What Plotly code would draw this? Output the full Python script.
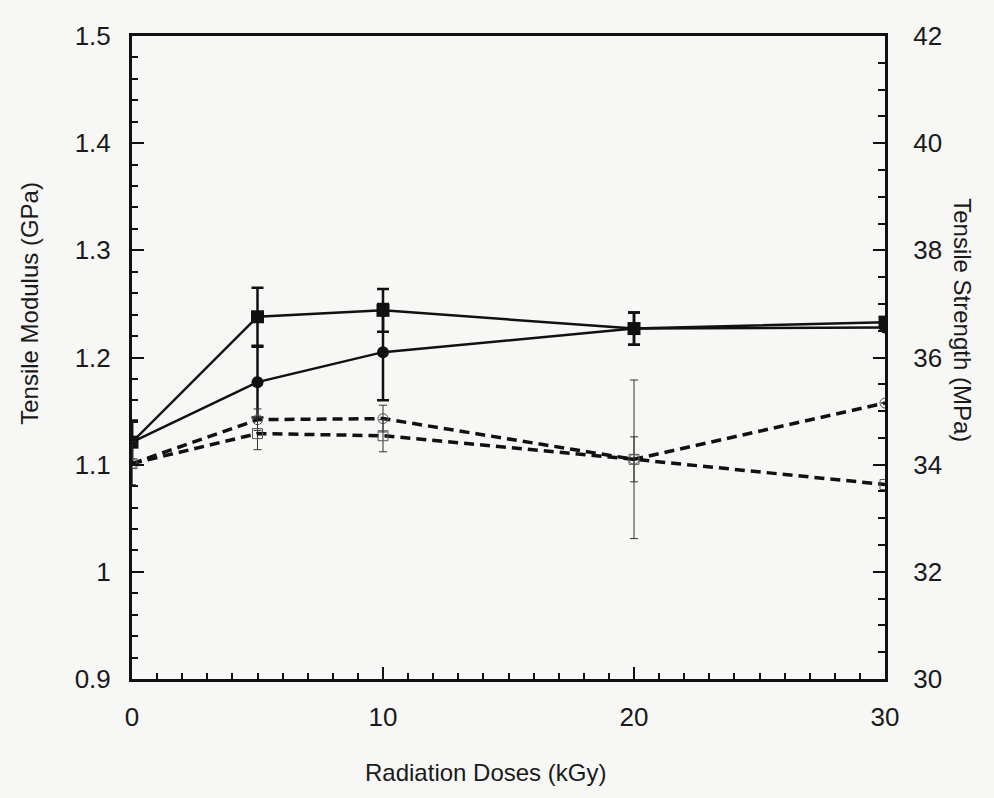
import plotly.graph_objects as go

dose = [0, 5, 10, 20, 30]

# Tensile modulus (GPa), left axis - solid lines
mod_sq = [1.121, 1.238, 1.244, 1.227, 1.233]
mod_sq_err = [0.02, 0.027, 0.02, 0.015, 0.0]
mod_ci = [1.121, 1.177, 1.205, 1.227, 1.228]
mod_ci_err = [0.02, 0.033, 0.045, 0.015, 0.0]

# Tensile strength (MPa), right axis - dashed lines
str_ci = [34.02, 34.84, 34.86, 34.1, 35.15]
str_ci_err = [0.4, 0.2, 0.25, 1.48, 0.0]
str_sq = [34.02, 34.58, 34.54, 34.1, 33.63]
str_sq_err = [0.4, 0.3, 0.3, 0.42, 0.0]

x_ticks = [0, 10, 20, 30]
left_ticks = [0.9, 1.0, 1.1, 1.2, 1.3, 1.4, 1.5]
left_labels = ["0.9", "1", "1.1", "1.2", "1.3", "1.4", "1.5"]
right_ticks = [30, 32, 34, 36, 38, 40, 42]

x_title = "Radiation Doses (kGy)"
left_title = "Tensile Modulus (GPa)"
right_title = "Tensile Strength (MPa)"

font_fam = "Liberation Sans, Arial, sans-serif"
ink = "#111111"

fig = go.Figure()

fig.add_trace(go.Scatter(
    x=dose, y=str_ci, yaxis="y2", mode="lines+markers",
    line=dict(color=ink, width=3.5, dash="10px,6px"),
    marker=dict(symbol="circle-open", size=10, color="#555", line=dict(width=1)),
    error_y=dict(type="data", array=str_ci_err, color="#333", thickness=1, width=4),
    showlegend=False))
fig.add_trace(go.Scatter(
    x=dose, y=str_sq, yaxis="y2", mode="lines+markers",
    line=dict(color=ink, width=3.5, dash="10px,6px"),
    marker=dict(symbol="square-open", size=10, color="#555", line=dict(width=1)),
    error_y=dict(type="data", array=str_sq_err, color="#333", thickness=1, width=4),
    showlegend=False))
fig.add_trace(go.Scatter(
    x=dose, y=mod_ci, mode="lines+markers",
    line=dict(color=ink, width=2.5),
    marker=dict(symbol="circle", size=12, color=ink),
    error_y=dict(type="data", array=mod_ci_err, color=ink, thickness=2.5, width=6),
    showlegend=False))
fig.add_trace(go.Scatter(
    x=dose, y=mod_sq, mode="lines+markers",
    line=dict(color=ink, width=2.5),
    marker=dict(symbol="square", size=13, color=ink),
    error_y=dict(type="data", array=mod_sq_err, color=ink, thickness=2.5, width=6),
    showlegend=False))

tick_font = dict(family=font_fam, size=26, color="#1a1a1a")
title_font = dict(family=font_fam, size=24, color="#1a1a1a")

fig.update_layout(
    width=994, height=798,
    margin=dict(l=132, r=109, t=36, b=119),
    paper_bgcolor="#f7f7f5", plot_bgcolor="#f7f7f5",
    xaxis=dict(
        range=[0, 30], tickvals=x_ticks, ticktext=[str(v) for v in x_ticks],
        ticks="inside", ticklen=12, tickwidth=2, tickcolor=ink,
        minor=dict(dtick=1, ticks="inside", ticklen=6, tickwidth=2, tickcolor=ink),
        showline=True, linewidth=3, linecolor=ink, mirror=True,
        showgrid=False, zeroline=False, tickfont=tick_font, ticklabelstandoff=13,
    ),
    yaxis=dict(
        range=[0.9, 1.5], tickvals=left_ticks, ticktext=left_labels,
        ticks="inside", ticklen=12, tickwidth=2, tickcolor=ink,
        minor=dict(dtick=0.02, ticks="inside", ticklen=6, tickwidth=2, tickcolor=ink),
        showline=True, linewidth=3, linecolor=ink, mirror=False,
        showgrid=False, zeroline=False, tickfont=tick_font, ticklabelstandoff=13,
    ),
    yaxis2=dict(
        range=[30, 42], tickvals=right_ticks, overlaying="y", side="right",
        ticks="inside", ticklen=12, tickwidth=2, tickcolor=ink,
        minor=dict(dtick=0.5, ticks="inside", ticklen=7, tickwidth=2, tickcolor=ink),
        showline=True, linewidth=3, linecolor=ink,
        showgrid=False, zeroline=False, tickfont=tick_font, ticklabelstandoff=20,
    ),
    annotations=[
        dict(text=x_title, xref="paper", yref="paper", x=0.469, y=-0.146,
             xanchor="center", yanchor="middle", showarrow=False, font=title_font),
        dict(text=left_title, xref="paper", yref="paper", x=-0.1355, y=0.585,
             xanchor="center", yanchor="middle", textangle=-90, showarrow=False,
             font=title_font),
        dict(text=right_title, xref="paper", yref="paper", x=1.1036, y=0.558,
             xanchor="center", yanchor="middle", textangle=90, showarrow=False,
             font=title_font),
    ],
)

fig.write_html("out.html")
